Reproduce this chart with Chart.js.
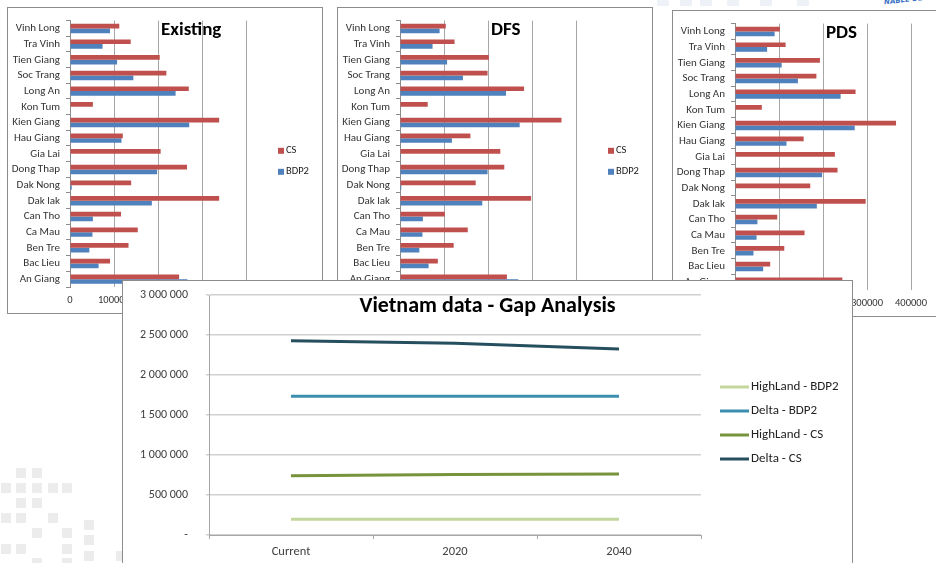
<!DOCTYPE html>
<html><head><meta charset="utf-8">
<script src="https://cdn.jsdelivr.net/npm/chart.js@4.4.1/dist/chart.umd.min.js"></script>
<style>
html,body{margin:0;padding:0;background:#fff;width:936px;height:563px;overflow:hidden;position:relative}
.panel{position:absolute;background:#fff;border:1px solid #8c8c8c;box-sizing:border-box;overflow:hidden}
.panel canvas{display:block}
.sq{position:absolute;width:10px;height:10px;background:#ececec}
.sqb{position:absolute;width:12px;height:6px;background:#eef1f7}
#logo{position:absolute;left:884px;top:-4px;font:italic bold 7px 'DejaVu Sans',sans-serif;color:#3a73c4;transform:rotate(-6deg);white-space:nowrap}
</style></head><body>
<div id="deco"></div>
<div id="logo">NABLE DEV</div>
<div class="panel" style="left:7px;top:7px;width:316px;height:307px"><canvas id="c1" width="314" height="305"></canvas></div>
<div class="panel" style="left:337px;top:7px;width:316px;height:307px"><canvas id="c2" width="314" height="305"></canvas></div>
<div class="panel" style="left:672px;top:10px;width:316px;height:307px"><canvas id="c3" width="314" height="305"></canvas></div>
<div class="panel" style="left:122px;top:280px;width:731px;height:300px"><canvas id="c4" width="729" height="282"></canvas></div>
<script>
// ---- bar chart data (categories listed bottom to top, as in the source) ----
const provinces = ['An Giang','Bac Lieu','Ben Tre','Ca Mau','Can Tho','Dak lak','Dak Nong','Dong Thap','Gia Lai','Hau Giang','Kien Giang','Kon Tum','Long An','Soc Trang','Tien Giang','Tra Vinh','Vinh Long'];
const existingCS   = [248000, 91000,133000,154000,116000,339000,139000,266000,206000,120000,339000,52000,270000,219000,204000,138000,112000];
const existingBDP2 = [267000, 65000, 44000, 51000, 52000,186000,  4000,198000,  2000,117000,271000,    0,240000,144000,107000, 74000, 91000];
const dfsCS        = [243000, 86000,122000,154000,102000,298000,172000,237000,228000,160000,367000,63000,282000,199000,202000,124000,104000];
const dfsBDP2      = [269000, 65000, 44000, 51000, 52000,187000,  3000,199000,  2000,118000,272000,    0,241000,143000,107000, 74000, 90000];
const pdsCS        = [244000, 80000,112000,158000, 96000,297000,171000,233000,227000,156000,366000,61000,274000,185000,193000,115000,102000];
const pdsBDP2      = [268000, 64000, 42000, 49000, 51000,186000,  2000,198000,  1000,117000,272000,    0,240000,143000,106000, 73000, 90000];
const barTitles = ['Existing','DFS','PDS'];
const barSeriesNames = ['CS','BDP2'];
const barXTicks = ['0','100000','200000','300000','400000'];

// ---- line chart data ----
const periods = ['Current','2020','2040'];
const lineSeriesNames = ['HighLand - BDP2','Delta - BDP2','HighLand - CS','Delta - CS'];
const highlandBDP2 = [196000, 196000, 196000];
const deltaBDP2    = [1733000, 1733000, 1733000];
const highlandCS   = [741000, 755000, 762000];
const deltaCS      = [2428000, 2396000, 2325000];
const lineYTicks = ['-','500 000','1 000 000','1 500 000','2 000 000','2 500 000','3 000 000'];
const lineTitle = 'Vietnam data - Gap Analysis';

// decorative slide squares
(function(){
  const d=document.getElementById('deco');
  const sq=[[16,468],[32,468],[1,483],[16,483],[32,483],[48,483],[62,483],[16,498],[32,498],[1,513],[16,513],[48,513],[84,520],[32,528],[62,528],[84,535],[1,544],[16,544],[62,544],[84,551],[116,551],[32,558],[62,558]];
  sq.forEach(p=>{const e=document.createElement('div');e.className='sq';e.style.left=p[0]+'px';e.style.top=p[1]+'px';d.appendChild(e);});
  [[657,0],[680,0],[700,0],[727,0],[760,0],[797,0]].forEach(p=>{const e=document.createElement('div');e.className='sqb';e.style.left=p[0]+'px';e.style.top=p[1]+'px';d.appendChild(e);});
})();

const FONT = "Carlito, Lato, 'Liberation Sans', sans-serif";
const RED = '#c0504d', BLUE = '#4f81bd';

const panelDeco = {
  id:'panelDeco',
  afterDraw(chart, args, opts){
    const ctx = chart.ctx, a = chart.chartArea;
    ctx.save();
    ctx.font = 'bold 19px ' + FONT;
    ctx.fillStyle = '#000';
    ctx.textBaseline = 'middle';
    ctx.textAlign = 'left';
    ctx.fillText(opts.title, a.left + 91, a.top + 10);
    ctx.font = '10.5px ' + FONT;
    chart.data.datasets.forEach((ds, i) => {
      const y = (a.top + a.bottom)/2 - 3 + i*21;
      ctx.fillStyle = ds.backgroundColor;
      ctx.fillRect(a.right + 32, y - 3, 6, 6);
      ctx.fillStyle = '#222';
      ctx.fillText(ds.label, a.right + 40, y);
    });
    ctx.restore();
  }
};

function makeBar(id, title, cs, bdp2){
  new Chart(document.getElementById(id), {
    type:'bar',
    data:{ labels: provinces, datasets:[
      {label: barSeriesNames[0], data: cs, backgroundColor: RED},
      {label: barSeriesNames[1], data: bdp2, backgroundColor: BLUE}
    ]},
    options:{
      indexAxis:'y', responsive:false, animation:false,
      layout:{padding:{left:0, top:11, right:76, bottom:0}},
      datasets:{bar:{categoryPercentage:0.6, barPercentage:1.0}},
      plugins:{legend:{display:false}, tooltip:{enabled:false}, panelDeco:{title:title}},
      scales:{
        y:{ reverse:true, offset:true,
            grid:{drawOnChartArea:false, offset:true, tickLength:4, color:'#8c8c8c'},
            border:{display:true, color:'#8c8c8c'},
            ticks:{font:{family:FONT, size:11}, color:'#333', padding:6, autoSkip:false},
            afterFit(s){ s.width = 62; } },
        x:{ min:0, max:400000,
            grid:{color:'#a6a6a6', drawTicks:false},
            border:{display:false},
            ticks:{stepSize:100000, font:{family:FONT, size:10.5}, color:'#333', padding:7,
                   callback:(v,i)=>barXTicks[i]},
            afterFit(s){ s.height = 26; } }
      }
    },
    plugins:[panelDeco]
  });
}
makeBar('c1', barTitles[0], existingCS, existingBDP2);
makeBar('c2', barTitles[1], dfsCS, dfsBDP2);
makeBar('c3', barTitles[2], pdsCS, pdsBDP2);

const lineDeco = {
  id:'lineDeco',
  afterDraw(chart){
    const ctx = chart.ctx, a = chart.chartArea;
    ctx.save();
    ctx.font = 'bold 22px ' + FONT;
    ctx.fillStyle = '#000';
    ctx.textAlign = 'center';
    ctx.textBaseline = 'middle';
    ctx.fillText(lineTitle, chart.width/2, a.top + 11);
    ctx.font = '13px ' + FONT;
    ctx.textAlign = 'left';
    chart.data.datasets.forEach((ds, i) => {
      const y = a.top + 92 + i*24;
      ctx.strokeStyle = ds.borderColor;
      ctx.lineWidth = 3;
      ctx.beginPath(); ctx.moveTo(a.right + 19, y); ctx.lineTo(a.right + 48, y); ctx.stroke();
      ctx.fillStyle = '#222';
      ctx.fillText(ds.label, a.right + 50, y);
    });
    ctx.restore();
  }
};

new Chart(document.getElementById('c4'), {
  type:'line',
  data:{ labels: periods, datasets:[
    {label: lineSeriesNames[0], data: highlandBDP2, borderColor:'#c3d69b'},
    {label: lineSeriesNames[1], data: deltaBDP2, borderColor:'#3b8fae'},
    {label: lineSeriesNames[2], data: highlandCS, borderColor:'#77933c'},
    {label: lineSeriesNames[3], data: deltaCS, borderColor:'#254f5e'}
  ]},
  options:{
    responsive:false, animation:false,
    elements:{line:{borderWidth:3, tension:0}, point:{radius:0}},
    layout:{padding:{left:0, top:14, right:151, bottom:0}},
    plugins:{legend:{display:false}, tooltip:{enabled:false}},
    scales:{
      y:{ min:0, max:3000000,
          grid:{color:'#d0d0d0', lineWidth:1.5, tickLength:3},
          border:{display:true, color:'#a6a6a6'},
          ticks:{stepSize:500000, font:{family:FONT, size:12}, color:'#404040', padding:18,
                 callback:(v,i)=>lineYTicks[i]},
          afterFit(s){ s.width = 86; s.paddingTop = 0; s.paddingBottom = 0; } },
      x:{ offset:true,
          grid:{drawOnChartArea:false, offset:true, tickLength:4, color:'#a6a6a6'},
          border:{display:true, color:'#a6a6a6'},
          ticks:{font:{family:FONT, size:12.5}, color:'#404040', padding:5},
          afterFit(s){ s.height = 28; } }
    }
  },
  plugins:[lineDeco]
});
</script>
</body></html>
